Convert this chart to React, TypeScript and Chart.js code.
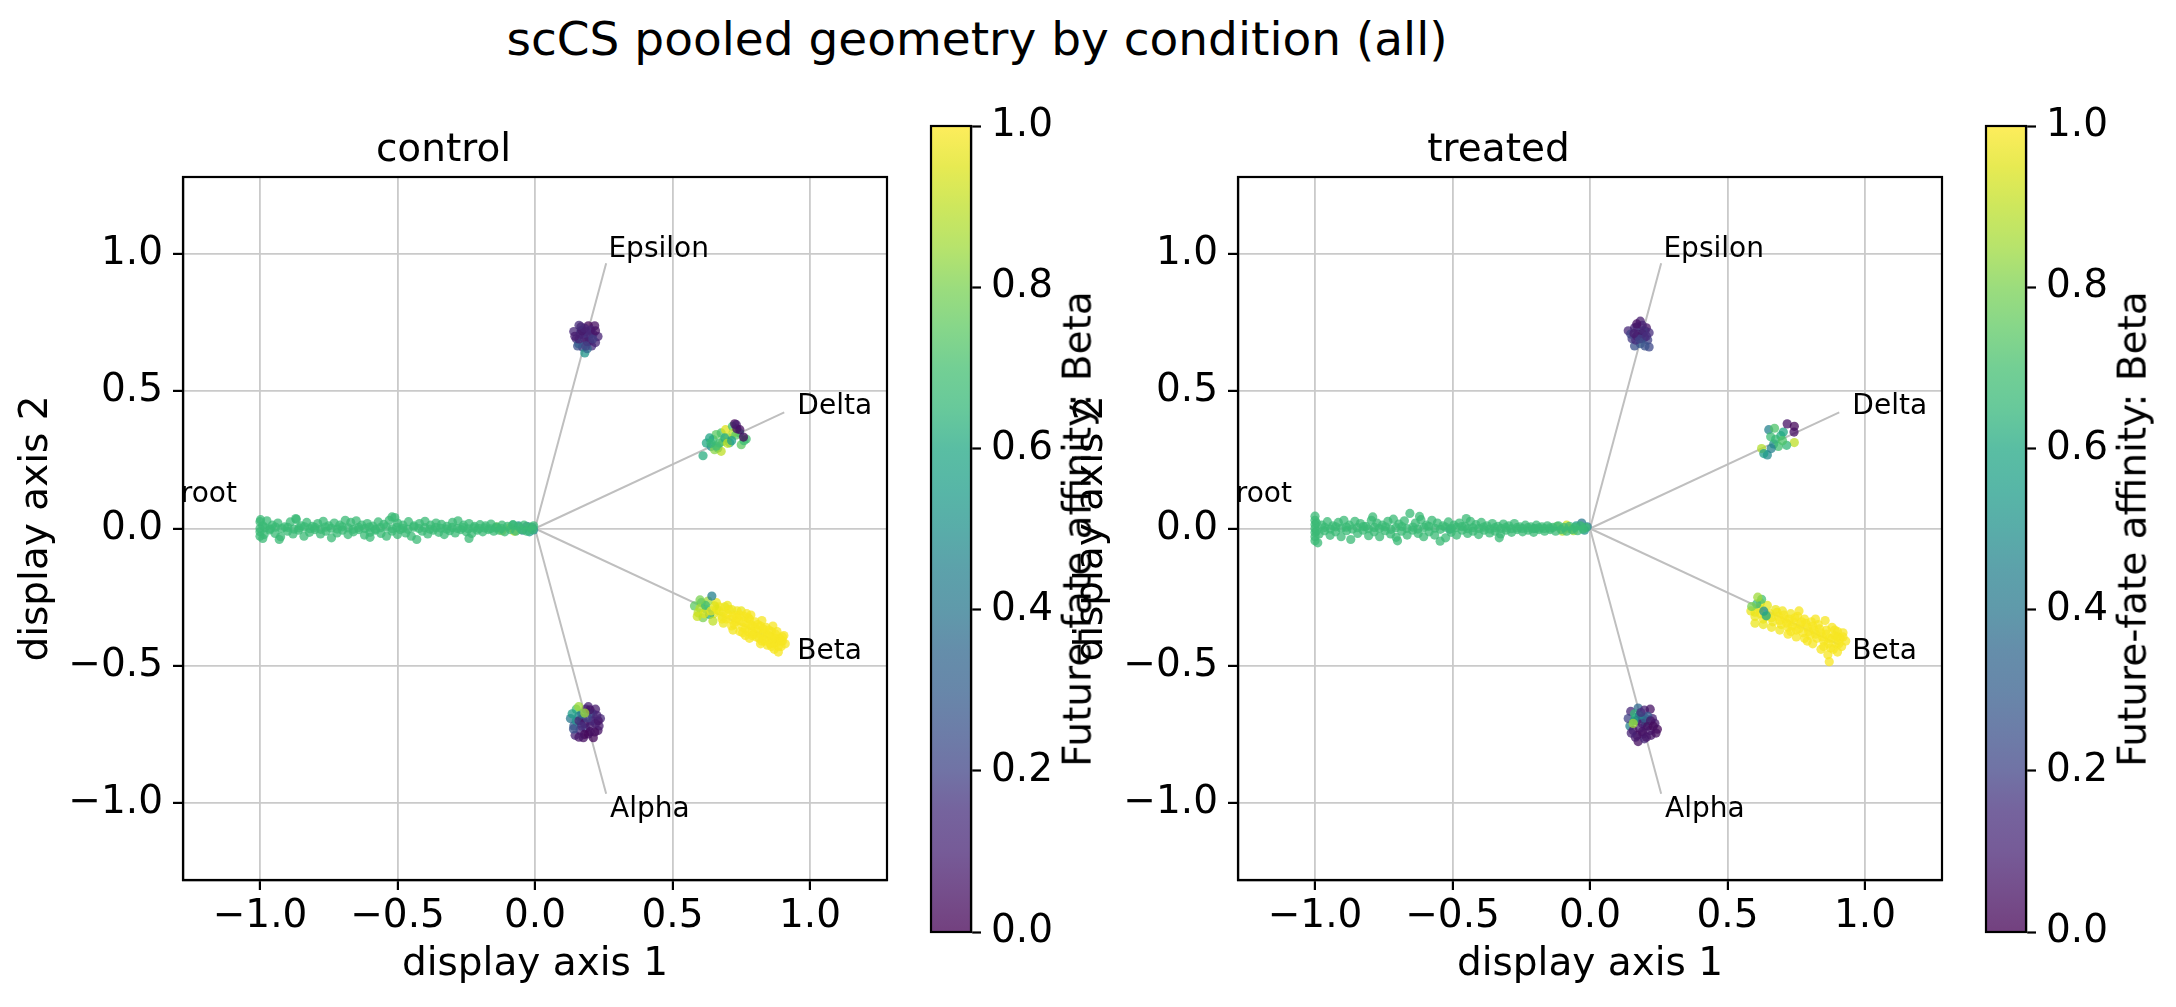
import React, { useEffect, useRef } from 'react';
import { Chart, registerables } from 'chart.js';
Chart.register(...registerables);

const FONT = 'DejaVu Sans';
const SUPTITLE = 'scCS pooled geometry by condition (all)';
const PANEL_TITLES = ['control', 'treated'];
const X_LABEL = 'display axis 1';
const Y_LABEL = 'display axis 2';
const CBAR_LABEL = 'Future-fate affinity: Beta';
const AXIS_MIN = -1.28;
const AXIS_MAX = 1.28;
const AXIS_TICKS = [-1, -0.5, 0, 0.5, 1];
const CBAR_TICKS = [0, 0.2, 0.4, 0.6, 0.8, 1.0];
const POINT_ALPHA = 0.75;

// branch geometry (display coordinates)
const BRANCH_NAMES = ['root', 'Epsilon', 'Delta', 'Beta', 'Alpha'];
const BRANCH_END_X = [-1, 0.2588, 0.9063, 0.9063, 0.2588];
const BRANCH_END_Y = [0, 0.9659, 0.4226, -0.4226, -0.9659];
const LABEL_X = [-1.288, 0.267, 0.954, 0.954, 0.273];
const LABEL_Y = [0.096, 0.99, 0.418, -0.475, -1.052];

// ---------------- control ----------------
const ROOT_AFFINITY = 0.67;
const CONTROL_ROOT: number[][] = [
  [-1.0, 0.025], [-0.99, 0.01], [-0.975, 0.028], [-0.955, 0.012], [-0.935, 0.02], [-0.91, 0.006], [-0.89, 0.024],
  [-0.868, 0.033], [-0.85, 0.01], [-0.83, 0.022], [-0.81, 0.008], [-0.79, 0.018], [-0.77, 0.026], [-0.75, 0.01],
  [-0.73, 0.02], [-0.71, 0.012], [-0.69, 0.03], [-0.67, 0.022], [-0.65, 0.028], [-0.63, 0.012], [-0.61, 0.018],
  [-0.59, 0.009], [-0.57, 0.024], [-0.55, 0.015], [-0.53, 0.03], [-0.51, 0.04], [-0.5, 0.02], [-0.48, 0.012],
  [-0.46, 0.025], [-0.44, 0.01], [-0.42, 0.018], [-0.4, 0.026], [-0.38, 0.012], [-0.36, 0.02], [-0.34, 0.015],
  [-0.32, 0.008], [-0.3, 0.022], [-0.28, 0.028], [-0.26, 0.012], [-0.24, 0.018], [-0.22, 0.008], [-0.2, 0.014],
  [-0.18, 0.01], [-0.16, 0.016], [-0.14, 0.006], [-0.12, 0.012], [-0.1, 0.008], [-0.08, 0.014], [-0.06, 0.006],
  [-0.04, 0.012], [-0.02, 0.005], [-0.005, 0.01],
  [-1.0, -0.012], [-0.985, -0.022], [-0.965, -0.005], [-0.945, -0.018], [-0.925, -0.03], [-0.9, -0.01], [-0.88, -0.02],
  [-0.86, -0.006], [-0.84, -0.028], [-0.82, -0.014], [-0.8, -0.004], [-0.78, -0.02], [-0.76, -0.01], [-0.74, -0.034],
  [-0.72, -0.016], [-0.7, -0.006], [-0.68, -0.022], [-0.66, -0.012], [-0.64, -0.004], [-0.62, -0.024], [-0.6, -0.014],
  [-0.58, -0.006], [-0.56, -0.018], [-0.54, -0.028], [-0.52, -0.01], [-0.5, -0.022], [-0.49, -0.004], [-0.47, -0.016],
  [-0.45, -0.028], [-0.43, -0.04], [-0.41, -0.01], [-0.39, -0.02], [-0.37, -0.006], [-0.35, -0.014], [-0.33, -0.022],
  [-0.31, -0.008], [-0.29, -0.016], [-0.27, -0.004], [-0.25, -0.012], [-0.23, -0.018], [-0.21, -0.006], [-0.19, -0.012],
  [-0.17, -0.004], [-0.15, -0.01], [-0.13, -0.006], [-0.11, -0.012], [-0.09, -0.004], [-0.07, -0.01], [-0.05, -0.004],
  [-0.03, -0.01], [-0.01, -0.004],
  [-1.0, 0.0], [-1.0, -0.028], [-0.998, 0.032], [-0.99, -0.036], [-0.93, -0.04], [-0.6, -0.032], [-0.24, -0.036],
  [-0.87, 0.036], [-0.52, 0.042],
  [-0.982, 0.003], [-0.962, -0.001], [-0.944, 0.005], [-0.921, 0.0], [-0.899, 0.004], [-0.877, -0.002], [-0.858, 0.002],
  [-0.838, 0.006], [-0.819, -0.001], [-0.801, 0.004], [-0.779, -0.003], [-0.762, 0.005], [-0.741, 0.001], [-0.719, -0.002],
  [-0.701, 0.006], [-0.679, 0.002], [-0.661, -0.003], [-0.641, 0.004], [-0.619, 0.0], [-0.602, 0.005], [-0.581, -0.002],
  [-0.562, 0.003], [-0.541, 0.006], [-0.519, -0.001], [-0.503, 0.004], [-0.481, 0.001], [-0.462, -0.003], [-0.441, 0.005],
  [-0.422, 0.0], [-0.401, 0.003], [-0.382, -0.002], [-0.361, 0.004], [-0.342, 0.001], [-0.321, -0.002], [-0.301, 0.004],
  [-0.282, 0.0], [-0.262, 0.003], [-0.243, -0.001], [-0.222, 0.002], [-0.203, 0.0], [-0.183, 0.002], [-0.162, -0.001],
  [-0.143, 0.002], [-0.122, 0.0],
];
const CONTROL_ROOT_MIXED: number[][] = [
  [-0.14, 0.005, 0.9], [-0.12, -0.008, 0.85], [-0.09, 0.004, 0.88], [-0.075, -0.01, 0.92], [-0.06, 0.01, 0.5],
  [-0.045, -0.006, 0.45], [-0.03, 0.008, 0.4], [-0.02, -0.012, 0.55], [-0.01, 0.004, 0.45], [-0.005, -0.005, 0.5],
  [-0.08, 0.012, 0.6],
];
const CONTROL_EPSILON: number[][] = [
  [0.141, 0.717, 0.12], [0.167, 0.734, 0.05], [0.194, 0.738, 0.02], [0.217, 0.738, 0.04], [0.229, 0.699, 0.1],
  [0.206, 0.665, 0.15], [0.155, 0.665, 0.25], [0.18, 0.691, 0.12], [0.185, 0.717, 0.08], [0.15, 0.691, 0.14],
  [0.211, 0.708, 0.1], [0.173, 0.661, 0.2], [0.199, 0.682, 0.1], [0.164, 0.708, 0.15], [0.176, 0.705, 0.1],
  [0.195, 0.7, 0.16], [0.159, 0.673, 0.3], [0.22, 0.677, 0.12], [0.181, 0.639, 0.52], [0.19, 0.655, 0.35],
  [0.168, 0.721, 0.18], [0.203, 0.723, 0.1],
  [0.16, 0.69, 0.1], [0.19, 0.68, 0.08], [0.2, 0.71, 0.12], [0.17, 0.72, 0.06], [0.21, 0.69, 0.18],
  [0.18, 0.73, 0.1], [0.16, 0.74, 0.14], [0.22, 0.72, 0.05], [0.185, 0.665, 0.2], [0.145, 0.7, 0.08],
];
const CONTROL_DELTA: number[][] = [
  [0.611, 0.265, 0.62], [0.623, 0.311, 0.6], [0.641, 0.299, 0.5], [0.647, 0.324, 0.68], [0.659, 0.342, 0.75],
  [0.665, 0.293, 0.55], [0.677, 0.281, 0.9], [0.683, 0.317, 0.8], [0.677, 0.348, 0.72], [0.693, 0.36, 0.95],
  [0.702, 0.33, 0.85], [0.708, 0.312, 0.65], [0.718, 0.372, 0.7], [0.744, 0.348, 0.6], [0.768, 0.326, 0.7],
  [0.75, 0.305, 0.75], [0.653, 0.287, 0.82], [0.635, 0.33, 0.58], [0.671, 0.311, 0.7], [0.72, 0.348, 0.88],
  [0.66, 0.3, 0.7], [0.69, 0.33, 0.62], [0.7, 0.31, 0.9], [0.73, 0.34, 0.75], [0.715, 0.32, 0.55],
  [0.64, 0.31, 0.66], [0.76, 0.32, 0.68],
  [0.726, 0.381, 0.02], [0.734, 0.363, 0.05], [0.732, 0.378, 0.08], [0.758, 0.333, 0.02], [0.745, 0.36, 0.04],
];
const CONTROL_BETA: number[][] = [
  [0.66, -0.27, 0.97], [0.67, -0.3, 0.98], [0.68, -0.32, 0.97], [0.69, -0.285, 0.96], [0.7, -0.31, 0.99],
  [0.71, -0.33, 0.98], [0.715, -0.295, 0.97], [0.725, -0.35, 0.99], [0.73, -0.315, 0.98], [0.74, -0.335, 0.99],
  [0.75, -0.3, 0.97], [0.755, -0.36, 0.99], [0.76, -0.32, 0.98], [0.77, -0.345, 0.99], [0.775, -0.375, 0.99],
  [0.78, -0.33, 0.98], [0.79, -0.355, 0.99], [0.795, -0.385, 0.99], [0.8, -0.34, 0.99], [0.81, -0.37, 0.99],
  [0.815, -0.4, 0.99], [0.82, -0.355, 0.99], [0.83, -0.38, 0.99], [0.835, -0.41, 0.99], [0.84, -0.36, 0.99],
  [0.85, -0.39, 0.99], [0.855, -0.42, 0.99], [0.86, -0.375, 0.99], [0.865, -0.405, 0.99], [0.87, -0.44, 0.99],
  [0.875, -0.385, 0.99], [0.88, -0.415, 0.99], [0.89, -0.4, 0.99], [0.895, -0.43, 0.99], [0.9, -0.41, 0.99],
  [0.885, -0.45, 0.99], [0.845, -0.425, 0.99], [0.805, -0.395, 0.99], [0.765, -0.39, 0.99], [0.72, -0.37, 0.98],
  [0.685, -0.345, 0.97], [0.65, -0.31, 0.96], [0.7, -0.28, 0.97], [0.735, -0.3, 0.98], [0.785, -0.315, 0.99],
  [0.825, -0.335, 0.99], [0.865, -0.355, 0.99], [0.905, -0.39, 0.99], [0.91, -0.42, 0.99], [0.82, -0.42, 0.99],
  [0.78, -0.4, 0.99], [0.745, -0.375, 0.99],
  [0.67, -0.285, 0.98], [0.685, -0.305, 0.98], [0.695, -0.33, 0.99], [0.705, -0.295, 0.98], [0.72, -0.32, 0.99],
  [0.73, -0.34, 0.99], [0.745, -0.315, 0.99], [0.755, -0.34, 0.99], [0.765, -0.365, 0.99], [0.775, -0.325, 0.99],
  [0.785, -0.35, 0.99], [0.79, -0.375, 0.99], [0.8, -0.36, 0.99], [0.81, -0.35, 0.99], [0.82, -0.385, 0.99],
  [0.83, -0.365, 0.99], [0.84, -0.395, 0.99], [0.85, -0.37, 0.99], [0.86, -0.395, 0.99], [0.87, -0.42, 0.99],
  [0.875, -0.4, 0.99], [0.885, -0.43, 0.99], [0.895, -0.41, 0.99], [0.86, -0.43, 0.99], [0.825, -0.41, 0.99],
  [0.79, -0.39, 0.99], [0.755, -0.38, 0.99], [0.715, -0.355, 0.99], [0.68, -0.33, 0.98], [0.66, -0.295, 0.97],
  [0.9, -0.395, 0.99], [0.88, -0.375, 0.99], [0.77, -0.31, 0.99], [0.735, -0.325, 0.99],
  [0.58, -0.282, 0.75], [0.593, -0.307, 0.9], [0.605, -0.27, 0.65], [0.623, -0.294, 0.7], [0.611, -0.325, 0.8],
  [0.635, -0.313, 0.6], [0.653, -0.282, 0.95], [0.629, -0.264, 0.85], [0.647, -0.337, 0.9], [0.6, -0.29, 0.88],
  [0.615, -0.31, 0.95], [0.62, -0.28, 0.7], [0.59, -0.32, 0.92], [0.64, -0.3, 0.97], [0.6, -0.26, 0.8],
  [0.643, -0.246, 0.45],
];
const CONTROL_ALPHA: number[][] = [
  [0.129, -0.692, 0.4], [0.15, -0.658, 0.7], [0.194, -0.649, 0.1], [0.22, -0.658, 0.08], [0.238, -0.692, 0.12],
  [0.229, -0.736, 0.05], [0.212, -0.762, 0.02], [0.176, -0.762, 0.04], [0.146, -0.753, 0.1], [0.167, -0.71, 0.35],
  [0.203, -0.701, 0.15], [0.185, -0.727, 0.2], [0.159, -0.684, 0.45], [0.211, -0.675, 0.12], [0.141, -0.719, 0.3],
  [0.194, -0.748, 0.05], [0.22, -0.71, 0.1], [0.173, -0.692, 0.18], [0.203, -0.675, 0.25], [0.233, -0.719, 0.08],
  [0.164, -0.736, 0.15], [0.185, -0.658, 0.1], [0.15, -0.701, 0.5], [0.217, -0.741, 0.03],
  [0.16, -0.7, 0.1], [0.18, -0.71, 0.05], [0.2, -0.72, 0.08], [0.21, -0.7, 0.12], [0.19, -0.69, 0.2],
  [0.17, -0.72, 0.15], [0.2, -0.74, 0.04], [0.23, -0.7, 0.06], [0.14, -0.73, 0.25], [0.17, -0.675, 0.4],
  [0.2, -0.66, 0.05], [0.225, -0.68, 0.1], [0.18, -0.75, 0.02], [0.16, -0.76, 0.06], [0.135, -0.675, 0.55],
  [0.159, -0.649, 0.85], [0.181, -0.672, 0.85],
];

// ---------------- treated ----------------
const TREATED_ROOT: number[][] = [
  [-1.0, 0.045], [-1.0, 0.03], [-1.0, 0.015], [-1.0, 0.0], [-1.0, -0.015], [-1.0, -0.03], [-1.0, -0.045],
  [-0.995, 0.02], [-0.995, -0.01], [-0.99, -0.052],
  [-0.975, 0.012], [-0.955, 0.025], [-0.935, 0.01], [-0.915, 0.022], [-0.895, 0.03], [-0.875, 0.012], [-0.855, 0.026],
  [-0.835, 0.018], [-0.815, 0.008], [-0.795, 0.03], [-0.775, 0.02], [-0.755, 0.012], [-0.735, 0.026], [-0.715, 0.034],
  [-0.695, 0.016], [-0.675, 0.028], [-0.655, 0.055], [-0.635, 0.02], [-0.615, 0.032], [-0.595, 0.012], [-0.575, 0.03],
  [-0.555, 0.02], [-0.535, 0.01], [-0.515, 0.024], [-0.495, 0.012], [-0.475, 0.02], [-0.455, 0.008], [-0.435, 0.026],
  [-0.415, 0.014], [-0.395, 0.022], [-0.375, 0.01], [-0.355, 0.018], [-0.335, 0.008], [-0.315, 0.016], [-0.295, 0.01],
  [-0.275, 0.018], [-0.255, 0.006], [-0.235, 0.012], [-0.215, 0.006], [-0.195, 0.012], [-0.175, 0.006], [-0.155, 0.01],
  [-0.135, 0.004], [-0.115, 0.01], [-0.095, 0.004], [-0.075, 0.008], [-0.055, 0.004], [-0.035, 0.01], [-0.015, 0.004],
  [-0.985, -0.02], [-0.965, -0.008], [-0.945, -0.025], [-0.925, -0.012], [-0.905, -0.03], [-0.885, -0.008], [-0.87, -0.04],
  [-0.845, -0.018], [-0.825, -0.006], [-0.805, -0.026], [-0.785, -0.012], [-0.765, -0.03], [-0.745, -0.008], [-0.725, -0.02],
  [-0.705, -0.032], [-0.685, -0.01], [-0.665, -0.024], [-0.645, -0.006], [-0.625, -0.018], [-0.605, -0.03], [-0.585, -0.012],
  [-0.565, -0.024], [-0.545, -0.046], [-0.525, -0.034], [-0.505, -0.014], [-0.485, -0.024], [-0.465, -0.006], [-0.445, -0.018],
  [-0.425, -0.01], [-0.405, -0.022], [-0.385, -0.006], [-0.365, -0.016], [-0.345, -0.01], [-0.325, -0.02], [-0.305, -0.006],
  [-0.285, -0.014], [-0.265, -0.004], [-0.245, -0.012], [-0.225, -0.006], [-0.205, -0.014], [-0.185, -0.004], [-0.165, -0.01],
  [-0.145, -0.004], [-0.125, -0.01], [-0.105, -0.004], [-0.085, -0.01], [-0.065, -0.004], [-0.045, -0.008], [-0.025, -0.002],
  [-0.965, 0.004], [-0.944, -0.002], [-0.925, 0.006], [-0.904, 0.001], [-0.886, 0.005], [-0.864, -0.002], [-0.846, 0.003],
  [-0.824, 0.007], [-0.806, -0.001], [-0.784, 0.004], [-0.766, 0.0], [-0.744, 0.006], [-0.724, -0.003], [-0.706, 0.003],
  [-0.684, 0.007], [-0.666, 0.0], [-0.644, 0.005], [-0.626, -0.002], [-0.604, 0.004], [-0.586, 0.008], [-0.564, 0.001],
  [-0.544, -0.003], [-0.526, 0.005], [-0.504, 0.0], [-0.486, 0.004], [-0.466, 0.007], [-0.444, -0.001], [-0.426, 0.003],
  [-0.404, 0.0], [-0.386, 0.005], [-0.364, -0.002], [-0.346, 0.003], [-0.324, 0.0], [-0.306, 0.004], [-0.286, -0.001],
  [-0.266, 0.003], [-0.246, 0.0], [-0.226, 0.003], [-0.206, -0.001], [-0.186, 0.002], [-0.166, 0.0], [-0.146, 0.002],
  [-0.62, 0.044], [-0.7, -0.045], [-0.79, 0.042], [-0.45, 0.036], [-0.33, -0.034],
];
const TREATED_ROOT_MIXED: number[][] = [
  [-0.12, 0.008, 0.8], [-0.1, -0.01, 0.88], [-0.085, 0.012, 0.92], [-0.075, 0.0, 0.9], [-0.06, -0.008, 0.85],
  [-0.05, 0.01, 0.55], [-0.03, 0.02, 0.4], [-0.02, -0.006, 0.5], [-0.01, 0.006, 0.45], [-0.51, -0.003, 0.5],
  [-0.2, 0.0, 0.55],
];
const TREATED_EPSILON: number[][] = [
  [0.139, 0.72, 0.12], [0.162, 0.731, 0.1], [0.183, 0.755, 0.08], [0.205, 0.731, 0.05], [0.215, 0.713, 0.15],
  [0.21, 0.686, 0.2], [0.215, 0.661, 0.22], [0.183, 0.673, 0.3], [0.162, 0.665, 0.25], [0.153, 0.691, 0.18],
  [0.175, 0.708, 0.12], [0.192, 0.72, 0.35], [0.198, 0.696, 0.1], [0.166, 0.686, 0.15], [0.148, 0.708, 0.2],
  [0.187, 0.691, 0.28], [0.171, 0.734, 0.14],
  [0.17, 0.7, 0.1], [0.19, 0.71, 0.06], [0.2, 0.72, 0.12], [0.18, 0.69, 0.2], [0.16, 0.71, 0.08],
  [0.205, 0.7, 0.15], [0.19, 0.74, 0.1], [0.17, 0.745, 0.05], [0.2, 0.665, 0.25],
];
const TREATED_DELTA: number[][] = [
  [0.65, 0.36, 0.45], [0.645, 0.268, 0.48], [0.743, 0.313, 0.9], [0.624, 0.291, 0.88], [0.671, 0.365, 0.72],
  [0.694, 0.338, 0.62], [0.715, 0.303, 0.65], [0.668, 0.308, 0.5], [0.632, 0.273, 0.55], [0.657, 0.334, 0.68],
  [0.685, 0.299, 0.7], [0.703, 0.351, 0.6], [0.659, 0.291, 0.45], [0.675, 0.325, 0.66], [0.7, 0.32, 0.72],
  [0.717, 0.381, 0.05], [0.743, 0.372, 0.02], [0.742, 0.351, 0.04],
];
const TREATED_BETA: number[][] = [
  [0.585, -0.3, 0.97], [0.6, -0.32, 0.97], [0.615, -0.29, 0.96], [0.63, -0.33, 0.98], [0.645, -0.28, 0.96],
  [0.655, -0.31, 0.98], [0.665, -0.34, 0.98], [0.675, -0.295, 0.97], [0.685, -0.32, 0.99], [0.695, -0.35, 0.99],
  [0.7, -0.3, 0.98], [0.71, -0.33, 0.99], [0.72, -0.36, 0.99], [0.73, -0.31, 0.98], [0.74, -0.34, 0.99],
  [0.75, -0.37, 0.99], [0.755, -0.32, 0.99], [0.765, -0.35, 0.99], [0.775, -0.38, 0.99], [0.78, -0.33, 0.99],
  [0.79, -0.36, 0.99], [0.8, -0.39, 0.99], [0.805, -0.34, 0.99], [0.815, -0.37, 0.99], [0.825, -0.4, 0.99],
  [0.83, -0.35, 0.99], [0.84, -0.38, 0.99], [0.85, -0.41, 0.99], [0.855, -0.335, 0.99], [0.86, -0.37, 0.99],
  [0.87, -0.4, 0.99], [0.875, -0.435, 0.99], [0.88, -0.36, 0.99], [0.89, -0.39, 0.99], [0.895, -0.42, 0.99],
  [0.9, -0.375, 0.99], [0.91, -0.4, 0.99], [0.915, -0.43, 0.99], [0.93, -0.41, 0.99], [0.87, -0.485, 0.99],
  [0.865, -0.46, 0.99], [0.84, -0.44, 0.99], [0.81, -0.42, 0.99], [0.78, -0.4, 0.99], [0.75, -0.395, 0.99],
  [0.72, -0.385, 0.99], [0.69, -0.37, 0.98], [0.66, -0.36, 0.98], [0.63, -0.35, 0.97], [0.62, -0.27, 0.95],
  [0.76, -0.3, 0.99], [0.82, -0.33, 0.99], [0.92, -0.38, 0.99], [0.6, -0.345, 0.97], [0.9, -0.45, 0.99],
  [0.6, -0.305, 0.97], [0.62, -0.31, 0.98], [0.64, -0.32, 0.98], [0.66, -0.325, 0.98], [0.68, -0.305, 0.98],
  [0.69, -0.335, 0.99], [0.705, -0.315, 0.99], [0.715, -0.345, 0.99], [0.725, -0.33, 0.99], [0.735, -0.355, 0.99],
  [0.745, -0.325, 0.99], [0.76, -0.365, 0.99], [0.77, -0.34, 0.99], [0.785, -0.345, 0.99], [0.795, -0.375, 0.99],
  [0.81, -0.355, 0.99], [0.82, -0.385, 0.99], [0.835, -0.365, 0.99], [0.845, -0.395, 0.99], [0.86, -0.385, 0.99],
  [0.865, -0.42, 0.99], [0.88, -0.4, 0.99], [0.89, -0.37, 0.99], [0.9, -0.395, 0.99], [0.905, -0.42, 0.99],
  [0.92, -0.395, 0.99], [0.885, -0.44, 0.99], [0.85, -0.43, 0.99], [0.79, -0.41, 0.99], [0.73, -0.375, 0.99],
  [0.606, -0.275, 0.65], [0.632, -0.301, 0.5], [0.588, -0.284, 0.8], [0.624, -0.258, 0.7], [0.641, -0.318, 0.6],
  [0.61, -0.25, 0.85],
];
const TREATED_ALPHA: number[][] = [
  [0.148, -0.666, 0.12], [0.175, -0.654, 0.35], [0.198, -0.661, 0.1], [0.219, -0.658, 0.05], [0.227, -0.692, 0.1],
  [0.245, -0.731, 0.02], [0.219, -0.736, 0.08], [0.192, -0.748, 0.05], [0.175, -0.776, 0.04], [0.198, -0.766, 0.12],
  [0.145, -0.719, 0.45], [0.166, -0.689, 0.55], [0.187, -0.692, 0.4], [0.139, -0.692, 0.2], [0.201, -0.719, 0.15],
  [0.18, -0.727, 0.1], [0.157, -0.736, 0.06], [0.21, -0.684, 0.3], [0.236, -0.71, 0.08], [0.162, -0.675, 0.65],
  [0.201, -0.701, 0.5], [0.171, -0.753, 0.03], [0.222, -0.753, 0.06],
  [0.17, -0.7, 0.08], [0.19, -0.71, 0.1], [0.21, -0.72, 0.04], [0.2, -0.69, 0.3], [0.18, -0.68, 0.45],
  [0.16, -0.7, 0.6], [0.22, -0.7, 0.06], [0.23, -0.72, 0.03], [0.19, -0.74, 0.05], [0.165, -0.76, 0.08],
  [0.185, -0.67, 0.15], [0.24, -0.745, 0.04], [0.15, -0.745, 0.1], [0.205, -0.76, 0.06],
  [0.157, -0.71, 0.85],
];

// viridis colour map stops (0, 0.05, ..., 1)
const VIRIDIS = [
  '#440154', '#471365', '#482475', '#472f7d', '#414487', '#3b528b', '#355f8d', '#31688e', '#2a788e', '#26828e',
  '#21918c', '#1f9e89', '#22a884', '#35b779', '#44bf70', '#5ec962', '#7ad151', '#9fda3a', '#bddf26', '#dfe318', '#fde725',
];

function hexToRgb(h: string) {
  return [parseInt(h.slice(1, 3), 16), parseInt(h.slice(3, 5), 16), parseInt(h.slice(5, 7), 16)];
}
function viridis(v: number, a: number) {
  const t = Math.max(0, Math.min(1, v)) * (VIRIDIS.length - 1);
  const i = Math.min(VIRIDIS.length - 2, Math.floor(t));
  const f = t - i;
  const c0 = hexToRgb(VIRIDIS[i]);
  const c1 = hexToRgb(VIRIDIS[i + 1]);
  const c = c0.map((x, k) => Math.round(x + (c1[k] - x) * f));
  return `rgba(${c[0]},${c[1]},${c[2]},${a})`;
}

function fmtTick(v: number | string) {
  const n = Number(v);
  const s = Math.abs(n).toFixed(1);
  return n < -1e-9 ? '\u2212' + s : s;
}

const font39 = { family: FONT, size: 39, weight: 'normal' as const };

function pointsDataset(pts: number[][], fixedAffinity?: number) {
  return {
    type: 'scatter' as const,
    data: pts.map((p) => ({ x: p[0], y: p[1], c: fixedAffinity !== undefined ? fixedAffinity : p[2] })),
    pointRadius: 4.6,
    pointHoverRadius: 4.6,
    pointBorderWidth: 0,
    pointBackgroundColor: (ctx: any) => viridis(ctx.raw ? ctx.raw.c : 0.5, POINT_ALPHA),
    showLine: false,
    order: 1,
  };
}

const panelDecor = {
  id: 'panelDecor',
  afterDatasetsDraw(chart: any) {
    const { ctx, scales } = chart;
    ctx.save();
    ctx.font = `28px "${FONT}"`;
    ctx.fillStyle = '#000';
    ctx.textAlign = 'left';
    ctx.textBaseline = 'alphabetic';
    BRANCH_NAMES.forEach((n, i) => {
      ctx.fillText(n, scales.x.getPixelForValue(LABEL_X[i]), scales.y.getPixelForValue(LABEL_Y[i]));
    });
    ctx.restore();
  },
  afterDraw(chart: any) {
    const { ctx, chartArea: a } = chart;
    ctx.save();
    ctx.strokeStyle = '#000';
    ctx.lineWidth = 2.2;
    ctx.strokeRect(a.left, a.top, a.right - a.left, a.bottom - a.top);
    ctx.restore();
  },
};

function panelConfig(title: string, root: number[][], mixed: number[][], clusters: number[][][]): any {
  const branchLines = BRANCH_NAMES.map((_, i) => ({
    type: 'scatter' as const,
    data: [{ x: 0, y: 0 }, { x: BRANCH_END_X[i], y: BRANCH_END_Y[i] }],
    showLine: true,
    borderColor: '#bfbfbf',
    borderWidth: 2,
    pointRadius: 0,
    pointHoverRadius: 0,
    order: 5,
  }));
  return {
    type: 'scatter',
    data: {
      datasets: [
        ...branchLines,
        pointsDataset(root, ROOT_AFFINITY),
        pointsDataset(mixed),
        ...clusters.map((c) => pointsDataset(c)),
      ],
    },
    options: {
      responsive: false,
      animation: false,
      events: [],
      layout: { padding: { left: 0, right: 13, top: 127.8, bottom: 0 } },
      plugins: {
        legend: { display: false },
        tooltip: { enabled: false },
        title: { display: true, text: title, color: '#000', font: font39, padding: { top: 0, bottom: 2.4 } },
      },
      scales: {
        x: {
          type: 'linear',
          min: AXIS_MIN,
          max: AXIS_MAX,
          afterBuildTicks: (s: any) => { s.ticks = AXIS_TICKS.map((v) => ({ value: v })); },
          afterFit: (s: any) => { s.height = 127; },
          ticks: { font: font39, color: '#000', padding: 3, maxRotation: 0, autoSkip: false, callback: fmtTick },
          grid: { color: '#cacaca', lineWidth: 1.8, tickColor: '#000', tickLength: 10, tickWidth: 2.2 },
          border: { display: true, color: '#000', width: 2.2 },
          title: { display: true, text: X_LABEL, color: '#000', font: font39, padding: { top: 0, bottom: 19 } },
        },
        y: {
          type: 'linear',
          min: AXIS_MIN,
          max: AXIS_MAX,
          afterBuildTicks: (s: any) => { s.ticks = AXIS_TICKS.map((v) => ({ value: v })); },
          afterFit: (s: any) => { s.width = 183; },
          ticks: { font: font39, color: '#000', padding: 10, autoSkip: false, callback: fmtTick },
          grid: { color: '#cacaca', lineWidth: 1.8, tickColor: '#000', tickLength: 10, tickWidth: 2.2 },
          border: { display: true, color: '#000', width: 2.2 },
          title: { display: true, text: Y_LABEL, color: '#000', font: font39, padding: { top: 13.6, bottom: 0 } },
        },
      },
    },
    plugins: [panelDecor],
  };
}

const cbarDecor = {
  id: 'cbarDecor',
  beforeDatasetsDraw(chart: any) {
    const { ctx, chartArea: a, scales } = chart;
    const y0 = scales.y.getPixelForValue(0);
    const y1 = scales.y.getPixelForValue(1);
    const g = ctx.createLinearGradient(0, y0, 0, y1);
    for (let i = 0; i < VIRIDIS.length; i++) {
      const v = i / (VIRIDIS.length - 1);
      g.addColorStop(v, viridis(v, POINT_ALPHA));
    }
    ctx.save();
    ctx.fillStyle = g;
    ctx.fillRect(a.left, a.top, a.right - a.left, a.bottom - a.top);
    ctx.restore();
  },
  afterDraw(chart: any) {
    const { ctx, chartArea: a } = chart;
    ctx.save();
    ctx.strokeStyle = '#000';
    ctx.lineWidth = 2.2;
    ctx.strokeRect(a.left, a.top, a.right - a.left, a.bottom - a.top);
    ctx.restore();
  },
};

function cbarConfig(): any {
  return {
    type: 'scatter',
    data: { datasets: [] },
    options: {
      responsive: false,
      animation: false,
      events: [],
      layout: { padding: { left: 11, right: 0, top: 126, bottom: 75 } },
      plugins: { legend: { display: false }, tooltip: { enabled: false } },
      scales: {
        x: { type: 'linear', display: false, min: 0, max: 1 },
        y: {
          type: 'linear',
          position: 'right',
          min: 0,
          max: 1,
          afterBuildTicks: (s: any) => { s.ticks = CBAR_TICKS.map((v) => ({ value: v })); },
          afterFit: (s: any) => { s.width = 129; },
          ticks: { font: font39, color: '#000', padding: 10, autoSkip: false, callback: fmtTick },
          grid: { drawOnChartArea: false, drawTicks: true, tickLength: 10, tickColor: '#000', tickWidth: 2.2, color: '#000' },
          border: { display: true, color: '#000', width: 2.2 },
        },
      },
    },
    plugins: [cbarDecor],
  };
}

export default function App() {
  const p1 = useRef<HTMLCanvasElement>(null);
  const p2 = useRef<HTMLCanvasElement>(null);
  const c1 = useRef<HTMLCanvasElement>(null);
  const c2 = useRef<HTMLCanvasElement>(null);

  useEffect(() => {
    document.body.style.margin = '0';
    document.body.style.overflow = 'hidden';
    const charts = [
      new Chart(p1.current as HTMLCanvasElement, panelConfig(PANEL_TITLES[0], CONTROL_ROOT, CONTROL_ROOT_MIXED,
        [CONTROL_EPSILON, CONTROL_DELTA, CONTROL_BETA, CONTROL_ALPHA])),
      new Chart(p2.current as HTMLCanvasElement, panelConfig(PANEL_TITLES[1], TREATED_ROOT, TREATED_ROOT_MIXED,
        [TREATED_EPSILON, TREATED_DELTA, TREATED_BETA, TREATED_ALPHA])),
      new Chart(c1.current as HTMLCanvasElement, cbarConfig()),
      new Chart(c2.current as HTMLCanvasElement, cbarConfig()),
    ];
    return () => charts.forEach((c) => c.destroy());
  }, []);

  const abs = (left: number, top: number): React.CSSProperties => ({ position: 'absolute', left, top });
  const cbarLabel = (cx: number): React.CSSProperties => ({
    position: 'absolute', left: cx, top: 529, transform: 'translate(-50%, -50%) rotate(-90deg)',
    fontSize: 39, lineHeight: '46.8px', whiteSpace: 'nowrap', color: '#000',
  });

  return (
    <div style={{ position: 'absolute', left: 0, top: 0, width: 2176, height: 1007, overflow: 'hidden', background: '#fff', fontFamily: `"${FONT}"` }}>
      <div style={{ position: 'absolute', left: 377, top: 15.2, width: 1200, textAlign: 'center', fontSize: 47, lineHeight: '47px', whiteSpace: 'nowrap', color: '#000' }}>
        {SUPTITLE}
      </div>
      <canvas ref={p1} width={900} height={1007} style={abs(0, 0)} />
      <canvas ref={c1} width={180} height={1007} style={abs(920, 0)} />
      <canvas ref={p2} width={900} height={1007} style={abs(1055, 0)} />
      <canvas ref={c2} width={180} height={1007} style={abs(1975, 0)} />
      <div style={cbarLabel(1078)}>{CBAR_LABEL}</div>
      <div style={cbarLabel(2133)}>{CBAR_LABEL}</div>
    </div>
  );
}
